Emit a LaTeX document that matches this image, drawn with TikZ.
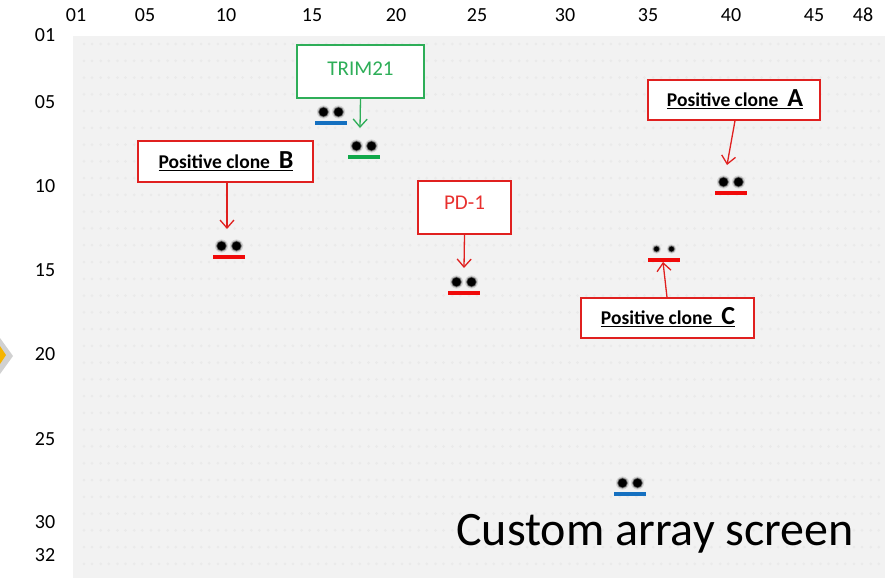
\documentclass[tikz,border=0pt]{standalone}
\usepackage{fontspec}
\setmainfont{Carlito}
\usetikzlibrary{arrows.meta}

\definecolor{panel}{HTML}{F2F2F2}
\definecolor{faint}{HTML}{EAEAEA}
\definecolor{boxred}{HTML}{E0201F}
\definecolor{textred}{HTML}{E8302E}
\definecolor{boxgreen}{HTML}{2EAE58}
\definecolor{bargreen}{HTML}{10A84A}
\definecolor{barblue}{HTML}{1570C0}
\definecolor{barred}{HTML}{F00A0A}
\definecolor{yell}{HTML}{F5B400}

\tikzset{
  axislabel/.style={font=\fontsize{20}{20}\selectfont, text=black, inner sep=0pt},
  callout/.style={draw=#1, line width=1.3pt, fill=white, inner sep=0pt},
  pointer/.style={draw=#1, line width=1.3pt, -{Straight Barb[length=8pt,width=14pt,line width=1.3pt]}},
  clonetext/.style={font=\fontsize{19.5}{20}\selectfont\bfseries},
  spotbar/.style={line width=3.6pt},
}

% one soft dark spot
\newcommand{\softspot}[3]{%
  \fill[black, opacity=0.12] (#1,#2) circle (#3+2.4);
  \fill[black, opacity=0.3] (#1,#2) circle (#3+1.4);
  \fill[black, opacity=0.6] (#1,#2) circle (#3+0.6);
  \fill[black] (#1,#2) circle (#3);
}
% a pair of dark spots with its coloured bar below
\newcommand{\spotpair}[4]{%
  % #1 centre x, #2 centre y, #3 bar colour, #4 spot radius
  \softspot{#1-7.5}{#2}{#4}
  \softspot{#1+7.5}{#2}{#4}
  \draw[spotbar, #3] (#1-16,#2+11) -- (#1+16,#2+11);
}
\newcommand{\clonelabel}[1]{\underline{Positive clone\ \ \fontsize{26}{26}\selectfont #1}}

\begin{document}
\begin{tikzpicture}[x=1pt,y=-1pt]
\useasboundingbox (0,0) rectangle (885,578);
\fill[white] (0,0) rectangle (885,578);

% membrane panel
\fill[panel] (73,36) rectangle (885,578);

% faint background spot grid
\foreach \i in {0,...,47}{
  \foreach \j in {0,...,31}{
    \fill[faint] ({84+\i*16.74},{44+\j*16.77}) circle (1.5);
    \fill[faint] ({92+\i*16.74},{44+\j*16.77}) circle (1.5);
  }
}

% column labels
\foreach \t/\x in {01/76,05/145,10/226,15/312,20/396,25/477,30/565,35/648,40/731,45/814,48/863}{
  \node[axislabel] (c\t) at (\x,15) {\t};
}
% row labels
\foreach \t/\y in {01/35,05/102,10/186,15/270,20/354,25/439,30/522,32/555}{
  \node[axislabel] (r\t) at (45,\y) {\t};
}

% yellow marker at the left edge
\fill[black!30] (0,341) -- (10,356) -- (0,371) -- cycle;
\fill[black!18] (0,338) -- (13,356) -- (0,374) -- cycle;
\fill[yell] (0,346) -- (6,355) -- (0,364) -- cycle;

% spots
\spotpair{331}{112}{barblue}{4.2}
\spotpair{364}{146}{bargreen}{4.2}
\spotpair{229}{246}{barred}{4.2}
\spotpair{464}{282}{barred}{4.2}
\spotpair{664}{249}{barred}{2.3}
\spotpair{731}{182}{barred}{4.2}
\spotpair{630}{483}{barblue}{4.2}

% arrow targets
\coordinate (tTRIM) at (360,128);
\coordinate (tB) at (227,229);
\coordinate (tPD) at (464,268);
\coordinate (tA) at (727,165);
\coordinate (tC) at (663,262);

% callout boxes
\node[callout=boxgreen, minimum width=127pt, minimum height=53pt] (trim) at (360.5,71.5) {};
\node[text=boxgreen, font=\fontsize{21}{21}\selectfont] (trimtxt) at (360.5,69) {TRIM21};

\node[callout=boxred, minimum width=172pt, minimum height=40pt] (boxA) at (734,100) {};
\node[clonetext] (txtA) at (735,99) {\clonelabel{A}};

\node[callout=boxred, minimum width=175pt, minimum height=41pt] (boxB) at (225.5,161.5) {};
\node[clonetext] (txtB) at (226,161) {\clonelabel{B}};

\node[callout=boxred, minimum width=93pt, minimum height=53pt] (boxPD) at (464.5,207.5) {};
\node[text=textred, font=\fontsize{21}{21}\selectfont] (pdtxt) at (464.5,203) {PD-1};

\node[callout=boxred, minimum width=173pt, minimum height=40pt] (boxC) at (667.5,318) {};
\node[clonetext] (txtC) at (668,317) {\clonelabel{C}};

% pointers
\draw[pointer=boxgreen] (trim.south) -- (tTRIM);
\draw[pointer=boxred] (boxA.south -| 735,0) -- (tA);
\draw[pointer=boxred] (boxB.south -| 227,0) -- (tB);
\draw[pointer=boxred] (boxPD.south) -- (tPD);
\draw[pointer=boxred] (boxC.north -| 667,0) -- (tC);

% caption
\node[font=\fontsize{48}{48}\selectfont, text=black] (caption) at (655,534) {Custom array screen};
\end{tikzpicture}
\end{document}
